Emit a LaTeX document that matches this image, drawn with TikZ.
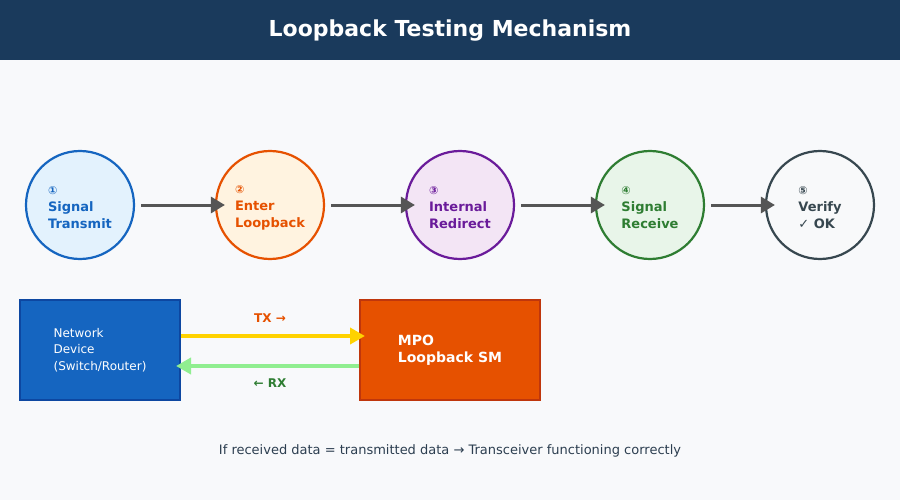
\documentclass[tikz,border=0pt]{standalone}
\usepackage{fontspec}
\setmainfont{DejaVu Sans}
\usetikzlibrary{arrows.meta}
\definecolor{titlebg}{HTML}{1A3A5C}
\definecolor{pagebg}{HTML}{F8F9FB}
\definecolor{c1s}{HTML}{1565C0}\definecolor{c1f}{HTML}{E3F2FD}
\definecolor{c2s}{HTML}{E65100}\definecolor{c2f}{HTML}{FFF3E0}
\definecolor{c3s}{HTML}{6A1B9A}\definecolor{c3f}{HTML}{F3E5F5}
\definecolor{c4s}{HTML}{2E7D32}\definecolor{c4f}{HTML}{E8F5E9}
\definecolor{c5s}{HTML}{37474F}\definecolor{c5f}{HTML}{F8F9FA}
\definecolor{flowgray}{HTML}{555555}
\definecolor{ndfill}{HTML}{1565C0}\definecolor{ndline}{HTML}{0D47A1}
\definecolor{mpofill}{HTML}{E65100}\definecolor{mpoline}{HTML}{BF360C}
\definecolor{txcol}{HTML}{FFD200}\definecolor{rxcol}{HTML}{90EE90}
\definecolor{notecol}{HTML}{2C3E50}
\tikzset{
  stepcircle/.style={circle, minimum size=108pt, inner sep=0pt, line width=2.2pt},
  steptext/.style={align=left, inner sep=0pt, yshift=-2.5pt,
    font=\fontsize{13}{17}\selectfont\bfseries},
  flow/.style={draw=flowgray, line width=3pt, -{Triangle[length=14pt,width=16pt]},
    shorten <=6pt, shorten >=-10pt},
  devbox/.style={rectangle, minimum width=#1, minimum height=100pt, inner sep=0pt, line width=2pt, align=left},
  linkarrow/.style={line width=4pt, -{Triangle[length=15pt,width=16pt]}},
}
\newcommand{\stepnum}[1]{{\fontsize{11}{17}\selectfont #1}}
\begin{document}
\begin{tikzpicture}[x=1pt,y=-1pt]
\useasboundingbox (0,0) rectangle (900,500);
\fill[pagebg] (0,0) rectangle (900,500);
\fill[titlebg] (0,0) rectangle (900,60);
\node[text=white, font=\fontsize{22}{26}\selectfont\bfseries] (title) at (450,31) {Loopback Testing Mechanism};

\node[stepcircle, draw=c1s, fill=c1f] (c1) at (80,205) {};
\node[stepcircle, draw=c2s, fill=c2f] (c2) at (270,205) {};
\node[stepcircle, draw=c3s, fill=c3f] (c3) at (460,205) {};
\node[stepcircle, draw=c4s, fill=c4f] (c4) at (650,205) {};
\node[stepcircle, draw=c5s, fill=c5f] (c5) at (820,205) {};

\node[steptext, text=c1s] (t1) at (c1.center) {\stepnum{①}\\Signal\\Transmit};
\node[steptext, text=c2s] (t2) at (c2.center) {\stepnum{②}\\Enter\\Loopback};
\node[steptext, text=c3s] (t3) at (c3.center) {\stepnum{③}\\Internal\\Redirect};
\node[steptext, text=c4s] (t4) at (c4.center) {\stepnum{④}\\Signal\\Receive};
\node[steptext, text=c5s] (t5) at (c5.center) {\stepnum{⑤}\\Verify\\{\mdseries ✓} OK};

\draw[flow] (c1) -- (c2);
\draw[flow] (c2) -- (c3);
\draw[flow] (c3) -- (c4);
\draw[flow] (c4) -- (c5);

\node[devbox=160pt, draw=ndline, fill=ndfill, text=white, font=\fontsize{12}{16.5}\selectfont] (nd) at (100,350) {Network\\Device\\(Switch/Router)};
\node[devbox=180pt, draw=mpoline, fill=mpofill, text=white, font=\fontsize{14}{17}\selectfont\bfseries] (mpo) at (450,350) {MPO\\Loopback SM};

\draw[linkarrow, draw=txcol, fill=txcol, shorten >=-6pt] ([yshift=14pt]nd.east) -- ([yshift=14pt]mpo.west);
\draw[linkarrow, draw=rxcol, fill=rxcol, shorten >=-5pt] ([yshift=-16pt]mpo.west) -- ([yshift=-16pt]nd.east);

\node[text=c2s, font=\fontsize{12}{14}\selectfont\bfseries] (txl) at (270,318) {TX →};
\node[text=c4s, font=\fontsize{12}{14}\selectfont\bfseries] (rxl) at (270,383) {← RX};

\node[text=notecol, font=\fontsize{13}{16}\selectfont] (note) at (450,451) {If received data = transmitted data → Transceiver functioning correctly};
\end{tikzpicture}
\end{document}
